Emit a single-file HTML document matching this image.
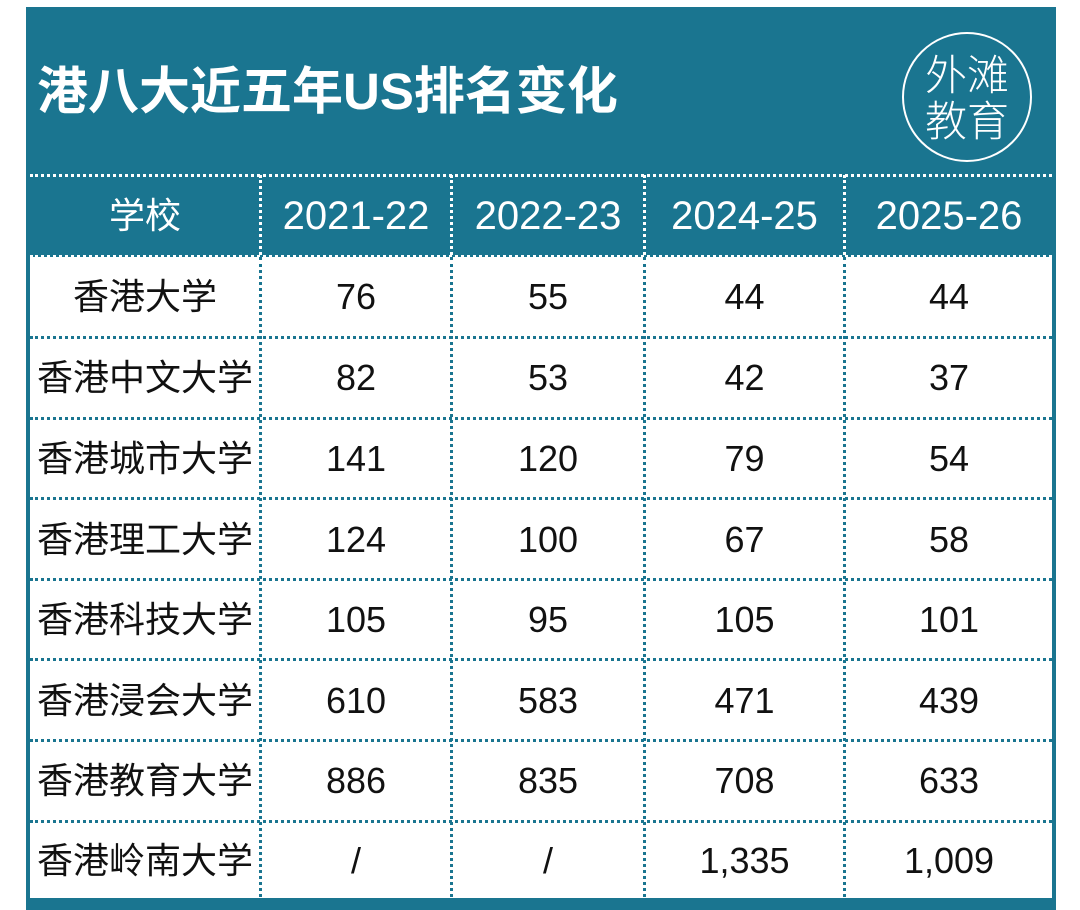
<!DOCTYPE html>
<html><head><meta charset="utf-8"><style>
body{margin:0;width:1080px;height:910px;background:#fff;position:relative;overflow:hidden;font-family:"Liberation Sans","Noto Sans CJK SC",sans-serif}
.box{position:absolute;left:26px;top:7px;width:1030px;height:903px;background:#fff;border-left:4px solid #1a7590;border-right:4px solid #1a7590;box-sizing:border-box}
.hdr{position:absolute;left:26px;top:7px;width:1030px;height:250px;background:#1a7590}
.bot{position:absolute;left:26px;top:898px;width:1030px;height:12px;background:#1a7590}
.t{position:absolute;left:37px;top:62px;color:#fff;font-size:51px;font-weight:bold;white-space:nowrap;line-height:60px}
.circ{position:absolute;left:902px;top:32px;width:130px;height:130px;border:2.5px solid #fff;border-radius:50%;box-sizing:border-box;color:#fff;font-size:42px;line-height:46px;text-align:center;padding-top:16px;font-family:"Noto Sans CJK SC",sans-serif;font-weight:300}
.hl{position:absolute;left:30px;width:1022px;height:0;border-top:3px dotted}
.vl{position:absolute;top:175px;height:722px;width:0;border-left:3px dotted #1a7590}
.c{position:absolute;text-align:center;font-size:36px;color:#111;line-height:40px;white-space:nowrap}
.h{color:#fff;font-size:40px}
</style></head><body>
<div class="box"></div><div class="hdr"></div><div class="bot"></div>
<div class="t">港八大近五年US排名变化</div>
<div class="circ">外滩<br>教育</div>
<div class="hl" style="top:174px;border-color:#fff"></div>
<div class="hl" style="top:255px;border-color:#fff"></div>
<div class="hl" style="top:336px;border-color:#1a7590"></div>
<div class="hl" style="top:417px;border-color:#1a7590"></div>
<div class="hl" style="top:497px;border-color:#1a7590"></div>
<div class="hl" style="top:578px;border-color:#1a7590"></div>
<div class="hl" style="top:658px;border-color:#1a7590"></div>
<div class="hl" style="top:739px;border-color:#1a7590"></div>
<div class="hl" style="top:820px;border-color:#1a7590"></div>
<div class="vl" style="left:259px;border-color:#fff;height:80px"></div>
<div class="vl" style="left:450px;border-color:#fff;height:80px"></div>
<div class="vl" style="left:643px;border-color:#fff;height:80px"></div>
<div class="vl" style="left:843px;border-color:#fff;height:80px"></div>
<div class="vl" style="left:259px;top:257px;height:640px"></div>
<div class="vl" style="left:450px;top:257px;height:640px"></div>
<div class="vl" style="left:643px;top:257px;height:640px"></div>
<div class="vl" style="left:843px;top:257px;height:640px"></div>
<div id="g"></div>
<script>
var cols=[[30,230],[261,190],[452,192],[645,199],[845,208]];
var rows=[["学校","2021-22","2022-23","2024-25","2025-26"],
["香港大学","76","55","44","44"],["香港中文大学","82","53","42","37"],["香港城市大学","141","120","79","54"],["香港理工大学","124","100","67","58"],["香港科技大学","105","95","105","101"],["香港浸会大学","610","583","471","439"],["香港教育大学","886","835","708","633"],["香港岭南大学","/","/","1,335","1,009"]];
var cy=[216,297,378,459,540,620,701,781,861];var h="";
rows.forEach(function(r,i){r.forEach(function(t,j){var fs=(i==0&&j==0)?'font-size:36px;':'';h+='<div class="c'+(i==0?' h':'')+'" style="'+fs+'left:'+cols[j][0]+'px;width:'+cols[j][1]+'px;top:'+(cy[i]-20)+'px">'+t+'</div>';});});
document.getElementById('g').innerHTML=h;
</script>
</body></html>
